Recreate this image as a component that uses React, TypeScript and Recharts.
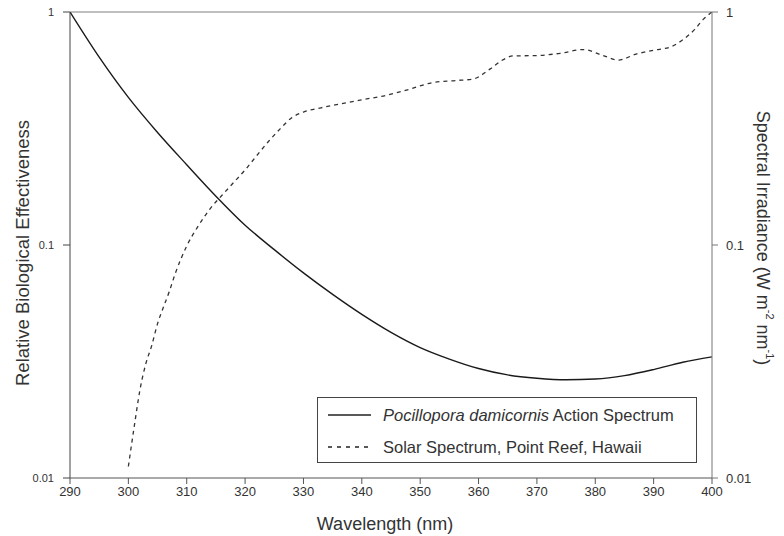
import React from 'react';
import { LineChart, Line, XAxis, YAxis, ReferenceLine, Legend } from 'recharts';

const actionWavelengths = [290, 295, 300, 305, 310, 315, 320, 325, 330, 335, 340, 345, 350, 355, 360, 365, 370, 375, 380, 385, 390, 395, 400];
const actionValues = [1.0, 0.64, 0.43, 0.304, 0.221, 0.162, 0.1216, 0.0955, 0.0759, 0.0614, 0.0504, 0.0422, 0.0363, 0.0324, 0.0295, 0.0277, 0.0268, 0.0264, 0.0266, 0.0275, 0.0292, 0.0314, 0.0331];

const solarWavelengths = [300, 301, 302, 303, 304, 305, 306, 307, 308, 310, 312, 314, 316, 318, 320, 322, 324, 326, 328, 330, 333, 336, 340, 344, 348, 352, 356, 359, 362, 364, 366, 370, 374, 378, 381, 384, 387, 390, 393, 395, 397, 398.5, 400];
const solarValues = [0.0112, 0.0166, 0.024, 0.031, 0.037, 0.046, 0.054, 0.063, 0.075, 0.099, 0.121, 0.143, 0.163, 0.185, 0.21, 0.242, 0.278, 0.315, 0.352, 0.372, 0.388, 0.402, 0.42, 0.438, 0.465, 0.497, 0.508, 0.515, 0.57, 0.62, 0.648, 0.65, 0.665, 0.69, 0.655, 0.622, 0.66, 0.685, 0.71, 0.76, 0.84, 0.93, 1.0];

const xTicks = [290, 300, 310, 320, 330, 340, 350, 360, 370, 380, 390, 400];
const yTicks = [0.01, 0.1, 1];
const yTickLabels = ['0.01', '0.1', '1'];

const actionData = actionWavelengths.map((wl, i) => ({ wl, v: actionValues[i] }));
const solarData = solarWavelengths.map((wl, i) => ({ wl, v: solarValues[i] }));

const FONT = '"Liberation Sans", Arial, Helvetica, sans-serif';

const fmtY = (v: number) => {
  const i = yTicks.findIndex((t) => Math.abs(t - v) < 1e-9);
  return i >= 0 ? yTickLabels[i] : String(v);
};

const LeftLabel = (props: any) => {
  const vb = props.viewBox || { x: 0, y: 12, width: 70, height: 466 };
  const cx = vb.x + 22;
  const cy = vb.y + vb.height / 2 + 8;
  return (
    <text x={cx} y={cy} transform={`rotate(-90, ${cx}, ${cy})`} textAnchor="middle" dominantBaseline="central" fontFamily={FONT} fontSize={18.5} fill="#333">
      Relative Biological Effectiveness
    </text>
  );
};

const RightLabel = (props: any) => {
  const vb = props.viewBox || { x: 712, y: 12, width: 72, height: 466 };
  const cx = vb.x + 51;
  const cy = vb.y + vb.height / 2 - 7;
  return (
    <text x={cx} y={cy} transform={`rotate(90, ${cx}, ${cy})`} textAnchor="middle" dominantBaseline="central" fontFamily={FONT} fontSize={18} fill="#333">
      <tspan>Spectral Irradiance (W m</tspan>
      <tspan fontSize={11} dy={-7}>-2</tspan>
      <tspan dy={7}> nm</tspan>
      <tspan fontSize={11} dy={-7}>-1</tspan>
      <tspan dy={7}>)</tspan>
    </text>
  );
};

const BottomLabel = (props: any) => {
  const vb = props.viewBox || { x: 70, y: 478, width: 642, height: 58 };
  const cx = vb.x + vb.width / 2 - 6;
  const cy = vb.y + 46;
  return (
    <text x={cx} y={cy} textAnchor="middle" dominantBaseline="central" fontFamily={FONT} fontSize={18} fill="#333">
      Wavelength (nm)
    </text>
  );
};

const LegendBox = () => (
  <div
    style={{
      width: 380,
      height: 66,
      border: '1px solid #444',
      background: '#fff',
      fontFamily: FONT,
      fontSize: 16.5,
      color: '#333',
      boxSizing: 'border-box',
      position: 'relative',
    }}
  >
    <div style={{ position: 'absolute', left: 10, top: 6, display: 'flex', alignItems: 'center', height: 22, whiteSpace: 'nowrap' }}>
      <svg width={44} height={4} style={{ marginRight: 11 }}>
        <line x1={0} y1={2} x2={43} y2={2} stroke="#222" strokeWidth={1.3} />
      </svg>
      <span><i>Pocillopora damicornis</i> Action Spectrum</span>
    </div>
    <div style={{ position: 'absolute', left: 10, top: 38, display: 'flex', alignItems: 'center', height: 22, whiteSpace: 'nowrap' }}>
      <svg width={44} height={4} style={{ marginRight: 11 }}>
        <line x1={0} y1={2} x2={43} y2={2} stroke="#222" strokeWidth={1.3} strokeDasharray="4 5" />
      </svg>
      <span>Solar Spectrum, Point Reef, Hawaii</span>
    </div>
  </div>
);

export default function App() {
  return (
    <div style={{ position: 'absolute', left: 0, top: 0, width: 784, height: 536, background: '#fff' }}>
      <LineChart width={784} height={536} margin={{ top: 12, right: 0, bottom: 0, left: 0 }}>
        <XAxis
          dataKey="wl"
          type="number"
          domain={[290, 400]}
          ticks={xTicks}
          interval={0}
          allowDataOverflow
          height={58}
          stroke="#555"
          tickSize={6}
          tickMargin={3}
          tick={{ fill: '#333', fontSize: 13, fontFamily: FONT }}
          label={<BottomLabel />}
        />
        <YAxis
          yAxisId="left"
          orientation="left"
          scale="log"
          domain={[0.01, 1]}
          ticks={yTicks}
          interval={0}
          allowDataOverflow
          width={70}
          stroke="#444"
          tickSize={7}
          tickMargin={9}
          tickFormatter={fmtY}
          tick={{ fill: '#333', fontSize: 11, fontFamily: FONT }}
          label={<LeftLabel />}
        />
        <YAxis
          yAxisId="right"
          orientation="right"
          scale="log"
          domain={[0.01, 1]}
          ticks={yTicks}
          interval={0}
          allowDataOverflow
          width={72}
          stroke="#777"
          tickSize={6}
          tickMargin={8}
          tickFormatter={fmtY}
          tick={{ fill: '#333', fontSize: 13, fontFamily: FONT }}
          label={<RightLabel />}
        />
        <ReferenceLine yAxisId="left" y={1} stroke="#aaa" strokeWidth={1.5} />
        <Line
          yAxisId="left"
          data={actionData}
          dataKey="v"
          type="monotone"
          stroke="#1a1a1a"
          strokeWidth={1.4}
          dot={false}
          isAnimationActive={false}
        />
        <Line
          yAxisId="right"
          data={solarData}
          dataKey="v"
          type="monotone"
          stroke="#333"
          strokeWidth={1.3}
          strokeDasharray="4 4"
          dot={false}
          isAnimationActive={false}
        />
        <Legend
          layout="horizontal"
          verticalAlign="middle"
          align="center"
          content={<LegendBox />}
          wrapperStyle={{ position: 'absolute', left: 317, top: 397, width: 380, height: 66 }}
        />
      </LineChart>
    </div>
  );
}
